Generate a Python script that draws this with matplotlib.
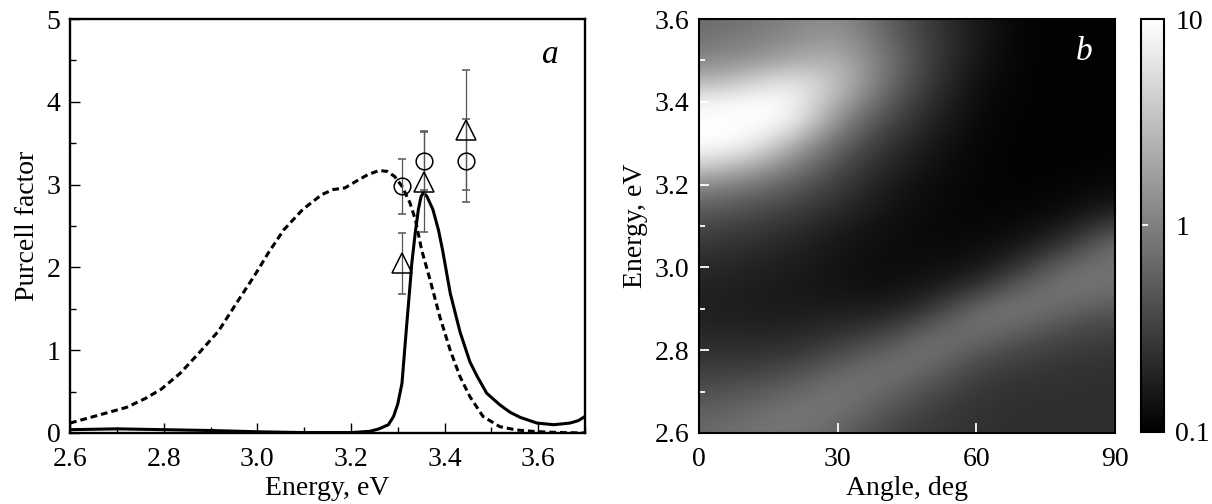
import numpy as np
import matplotlib
matplotlib.use('Agg')
import matplotlib.pyplot as plt
from matplotlib.colors import LogNorm
from matplotlib.ticker import MultipleLocator, FixedLocator, FormatStrFormatter

plt.rcParams['font.family'] = ['Liberation Serif', 'DejaVu Serif']
plt.rcParams['font.size'] = 20

# --- panel a: Purcell factor vs energy ---
solid_e = [2.60, 2.70, 2.80, 2.90, 3.00, 3.10, 3.20, 3.24, 3.26, 3.28, 3.291, 3.300,
           3.309, 3.319, 3.326, 3.330, 3.337, 3.344, 3.350, 3.355, 3.362, 3.375, 3.387,
           3.396, 3.412, 3.433, 3.454, 3.470, 3.490, 3.518, 3.540, 3.561, 3.597, 3.633,
           3.668, 3.686, 3.700]
solid_f = [0.04, 0.05, 0.04, 0.03, 0.015, 0.005, 0.005, 0.02, 0.05, 0.10, 0.20, 0.35,
           0.60, 1.30, 1.77, 2.05, 2.40, 2.70, 2.86, 2.90, 2.86, 2.70, 2.45,
           2.20, 1.69, 1.22, 0.86, 0.68, 0.48, 0.34, 0.25, 0.19, 0.12, 0.10,
           0.12, 0.15, 0.20]

dash_e = [2.600, 2.664, 2.721, 2.762, 2.795, 2.835, 2.876, 2.917, 2.958, 2.995, 3.023,
          3.056, 3.097, 3.138, 3.162, 3.187, 3.211, 3.236, 3.260, 3.277, 3.293, 3.309,
          3.326, 3.338, 3.351, 3.369, 3.390, 3.412, 3.433, 3.454, 3.482, 3.518, 3.554,
          3.597, 3.650, 3.700]
dash_f = [0.12, 0.22, 0.31, 0.42, 0.53, 0.72, 0.97, 1.23, 1.59, 1.91, 2.17,
          2.45, 2.70, 2.88, 2.94, 2.96, 3.04, 3.12, 3.17, 3.16, 3.10, 2.98,
          2.78, 2.57, 2.21, 1.85, 1.40, 1.00, 0.68, 0.44, 0.20, 0.076, 0.036,
          0.016, 0.005, 0.0]

circ_e = [3.31, 3.355, 3.445]
circ_f = [2.98, 3.29, 3.29]
circ_err = [0.33, 0.36, 0.50]

tri_e = [3.31, 3.355, 3.445]
tri_f = [2.05, 3.03, 3.66]
tri_err = [0.37, 0.60, 0.72]

# --- panel b: Purcell factor map (angle x energy) ---
angles = [0, 10, 20, 30, 40, 50, 60, 70, 80, 90]
energies = [2.60, 2.65, 2.70, 2.75, 2.80, 2.85, 2.90, 2.95, 3.00, 3.05, 3.10,
            3.15, 3.20, 3.25, 3.30, 3.35, 3.40, 3.45, 3.50, 3.55, 3.60]
# one list per angle, energies ascending
purcell_map = [
    [0.66, 0.56, 0.42, 0.31, 0.24, 0.20, 0.18, 0.19, 0.22, 0.27, 0.39, 0.61, 1.3, 5.0, 15, 15, 8.0, 2.5, 1.15, 0.80, 0.66],
    [0.80, 0.66, 0.47, 0.32, 0.23, 0.19, 0.17, 0.17, 0.19, 0.23, 0.30, 0.47, 0.90, 2.8, 10, 15, 12, 3.6, 1.4, 0.95, 0.80],
    [0.84, 0.87, 0.61, 0.39, 0.25, 0.19, 0.157, 0.157, 0.17, 0.19, 0.25, 0.35, 0.56, 1.1, 2.6, 9.0, 15, 7.0, 2.1, 1.25, 1.04],
    [0.61, 0.80, 0.87, 0.61, 0.35, 0.23, 0.17, 0.144, 0.139, 0.149, 0.17, 0.23, 0.30, 0.42, 0.66, 1.15, 2.3, 3.4, 2.7, 1.8, 1.37],
    [0.35, 0.47, 0.66, 0.84, 0.56, 0.27, 0.166, 0.131, 0.124, 0.127, 0.135, 0.149, 0.17, 0.21, 0.27, 0.39, 0.56, 0.80, 0.87, 0.73, 0.61],
    [0.27, 0.30, 0.39, 0.61, 0.87, 0.61, 0.25, 0.157, 0.129, 0.12, 0.117, 0.12, 0.124, 0.139, 0.157, 0.19, 0.23, 0.27, 0.30, 0.30, 0.27],
    [0.25, 0.25, 0.27, 0.32, 0.51, 0.80, 0.73, 0.25, 0.144, 0.124, 0.115, 0.11, 0.11, 0.11, 0.11, 0.115, 0.12, 0.131, 0.144, 0.157, 0.157],
    [0.23, 0.23, 0.24, 0.27, 0.35, 0.56, 0.87, 0.66, 0.27, 0.157, 0.12, 0.11, 0.106, 0.106, 0.106, 0.106, 0.106, 0.106, 0.106, 0.106, 0.106],
    [0.23, 0.23, 0.24, 0.25, 0.285, 0.39, 0.61, 0.87, 0.73, 0.30, 0.157, 0.12, 0.11, 0.104, 0.104, 0.104, 0.104, 0.104, 0.104, 0.104, 0.104],
    [0.23, 0.23, 0.23, 0.24, 0.27, 0.32, 0.47, 0.73, 0.80, 0.80, 0.35, 0.157, 0.12, 0.11, 0.104, 0.104, 0.104, 0.104, 0.104, 0.104, 0.104],
]

fig = plt.figure(figsize=(12.12, 5.04), dpi=100)

ax = fig.add_axes([0.0578, 0.1409, 0.4249, 0.8214])
ax.plot(solid_e, solid_f, color='black', lw=2.2)
ax.plot(dash_e, dash_f, color='black', lw=2.2, dashes=(2.2, 1.3))
ax.errorbar(circ_e, circ_f, yerr=circ_err, fmt='o', ms=12, mfc='none', mec='black',
            mew=1.1, ecolor='#555555', elinewidth=0.9, capsize=3, capthick=0.9)
ax.errorbar(tri_e, tri_f, yerr=tri_err, fmt='^', ms=15, mfc='none', mec='black',
            mew=1.1, ecolor='#555555', elinewidth=0.9, capsize=3, capthick=0.9)
ax.set_xlim(2.6, 3.7)
ax.set_ylim(0, 5)
ax.xaxis.set_major_locator(MultipleLocator(0.2))
ax.xaxis.set_minor_locator(MultipleLocator(0.1))
ax.yaxis.set_major_locator(MultipleLocator(1))
ax.yaxis.set_minor_locator(MultipleLocator(0.5))
ax.xaxis.set_major_formatter(FormatStrFormatter('%.1f'))
ax.tick_params(which='both', direction='in', top=False, right=False, width=1.0)
ax.tick_params(which='major', length=7)
ax.tick_params(which='minor', length=4.5)
ax.tick_params(axis='x', which='major', pad=10)
ax.tick_params(axis='y', which='major', pad=7)
for s in ax.spines.values():
    s.set_linewidth(1.7)
ax.set_xlabel('Energy, eV', labelpad=3)
ax.set_ylabel('Purcell factor', labelpad=5)
ax.text(3.625, 4.57, 'a', fontsize=24, fontstyle='italic', ha='center', va='center')

# map
bx = fig.add_axes([0.5767, 0.1409, 0.3432, 0.8214])
Z = np.array(purcell_map).T
img = bx.imshow(Z, origin='lower', aspect='auto', cmap='gray',
                norm=LogNorm(vmin=0.1, vmax=10), interpolation='bicubic',
                interpolation_stage='rgba',
                extent=[angles[0] - 5, angles[-1] + 5, energies[0] - 0.025, energies[-1] + 0.025])
bx.set_xlim(0, 90)
bx.set_ylim(2.6, 3.6)
bx.xaxis.set_major_locator(FixedLocator([0, 30, 60, 90]))
bx.yaxis.set_major_locator(MultipleLocator(0.2))
bx.yaxis.set_minor_locator(MultipleLocator(0.1))
bx.yaxis.set_major_formatter(FormatStrFormatter('%.1f'))
bx.tick_params(which='both', direction='in', top=False, right=False, color='white', width=1.3)
bx.tick_params(which='major', length=7)
bx.tick_params(which='minor', length=4.5)
bx.tick_params(axis='x', which='major', pad=10)
bx.tick_params(axis='y', which='major', pad=7)
for s in bx.spines.values():
    s.set_linewidth(1.5)
bx.set_xlabel('Angle, deg', labelpad=3)
bx.set_ylabel('Energy, eV', labelpad=5)
bx.text(83.3, 3.52, 'b', fontsize=24, fontstyle='italic', color='white', ha='center', va='center')

cax = fig.add_axes([0.9414, 0.1429, 0.019, 0.8194])
cb = fig.colorbar(img, cax=cax)
cb.set_ticks([0.1, 1, 10])
cb.set_ticklabels(['0.1', '1', '10'])
cax.minorticks_off()
cax.tick_params(which='major', direction='in', length=5, color='white', width=1.3, pad=8,
                left=True, right=False, labelleft=False, labelright=True)
cb.outline.set_linewidth(1.5)

fig.savefig('out.png', dpi=100)
